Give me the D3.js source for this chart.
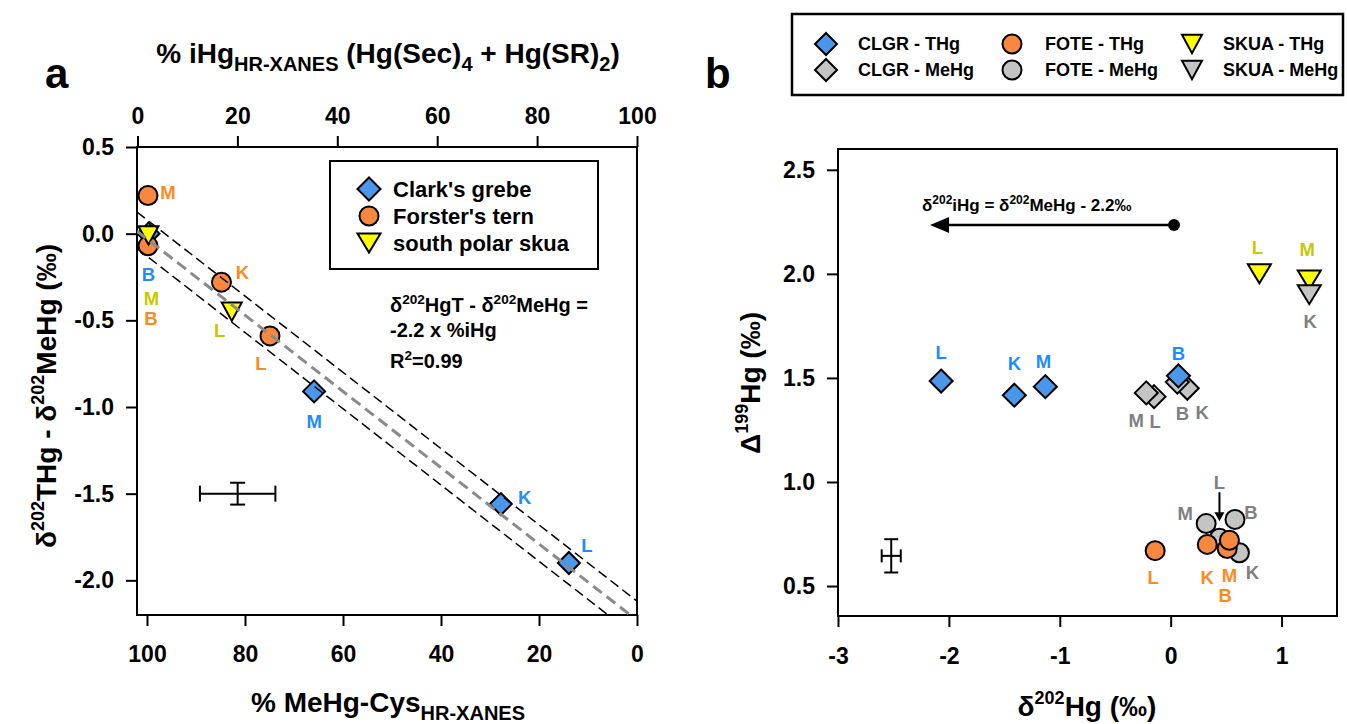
<!DOCTYPE html>
<html>
<head>
<meta charset="utf-8">
<script src="https://cdn.jsdelivr.net/npm/d3@7/dist/d3.min.js"></script>
<style>
html,body{margin:0;padding:0;background:#fff;}
svg text{font-family:"Liberation Sans",Arial,Helvetica,sans-serif;font-weight:bold;white-space:pre;}
</style>
</head>
<body>
<svg id="chart" width="1347" height="724"></svg>
<script>
// ================= Panel a data =================
const aSpecies = ['CLGR','CLGR','CLGR','CLGR','FOTE','FOTE','FOTE','FOTE','SKUA','SKUA'];
const aSite    = ['B','M','K','L','M','B','K','L','M','L'];
const aMeHgCys = [99.7, 65.9, 27.8, 13.9, 99.8, 99.8, 84.8, 74.9, 99.7, 82.7];
const aDelta   = [0.00, -0.91, -1.56, -1.90, 0.22, -0.07, -0.28, -0.59, -0.01, -0.45];
const aYTicks      = [0.5, 0.0, -0.5, -1.0, -1.5, -2.0];
const aTopTicks    = [0, 20, 40, 60, 80, 100];
const aBottomTicks = [100, 80, 60, 40, 20, 0];
const aLegendKeys   = ['CLGR','FOTE','SKUA'];
const aLegendLabels = ["Clark's grebe", "Forster's tern", "south polar skua"];
const fitNames      = ['upper','fit','lower'];
const fitIntercept  = [-2.12, -2.23, -2.33];
const fitSlope      = [0.022, 0.022, 0.022];
const aErrX = [81.5], aErrY = [-1.5], aErrDx = [7.7], aErrDy = [0.063];

// ================= Panel b data =================
const bSpecies = ['CLGR','CLGR','CLGR','CLGR', 'CLGR','CLGR','CLGR','CLGR',
                  'FOTE','FOTE','FOTE','FOTE', 'FOTE','FOTE','FOTE','FOTE',
                  'SKUA','SKUA','SKUA'];
const bForm    = ['MeHg','MeHg','MeHg','MeHg', 'THg','THg','THg','THg',
                  'MeHg','MeHg','MeHg','MeHg', 'THg','THg','THg','THg',
                  'THg','THg','MeHg'];
const bSite    = ['L','M','K','B', 'L','K','M','B',
                  'L','K','M','B', 'L','K','B','M',
                  'L','M','K'];
const bD202    = [-0.15,-0.22, 0.15, 0.06, -2.07,-1.41,-1.13, 0.07,
                   0.44, 0.62, 0.32, 0.58, -0.14, 0.33, 0.51, 0.53,
                   0.80, 1.25, 1.25];
const bD199    = [1.41, 1.428, 1.45, 1.48, 1.485, 1.417, 1.458, 1.51,
                  0.73, 0.66, 0.80, 0.82, 0.67, 0.70, 0.68, 0.72,
                  2.00, 1.97, 1.90];
const bYTicks = [0.5, 1.0, 1.5, 2.0, 2.5];
const bXTicks = [-3, -2, -1, 0, 1];
const bLegendSpecies = ['CLGR','FOTE','SKUA'];
const bLegendForms   = ['THg','MeHg'];
const bArrowFrom = [0.03, 2.235], bArrowTo = [-2.17, 2.235];
const bErrX = [-2.52], bErrY = [0.645], bErrDx = [0.086], bErrDy = [0.08];

// ================= Layout / style (not data) =================
const aLabelOffsets = [[0,41],[0,30],[24,-7],[18,-18],[20,-3],[3,73],[21,-10],[-9,27],[3,63],[-12,19]];
const bLabelOffsets = [[1,25],[-10,27],[15,24],[5,31], [0,-29],[0,-32],[-2,-25],[0,-23],
                       [0,-56],[13,20],[-21,-10],[16,-7], [-2,27],[0,33],[-2,47],[0,35],
                       [-2,-27],[-2,-31],[1,27]];
const fillColor = {CLGR:'#4a96e8', FOTE:'#f7883e', SKUA:'#ffff00', MeHg:'#c4c4c4'};
const textColor = {CLGR:'#1e8cff', FOTE:'#ff8a1e', SKUA:'#c8c800', MeHg:'#808080'};
const shapeOf   = {CLGR:'diamond', FOTE:'circle', SKUA:'triangle'};

function symPath(shape, big){
  if(shape==='diamond'){ const s = big?11.5:11; return `M0,${-s}L${s},0L0,${s}L${-s},0Z`; }
  if(shape==='triangle'){ const w = big?11.5:10, h = big?9.5:9.2; return `M${-w},${-h}L${w},${-h}L0,${h}Z`; }
  const r = 9.5;
  return `M${r},0A${r},${r} 0 1,1 ${-r},0A${r},${r} 0 1,1 ${r},0Z`;
}
function rich(sel, parts, size){
  let cur = 0;
  parts.forEach(p=>{
    let off = 0, fs = size;
    if(p.sub){ off = size*0.28; fs = p.fs || size*0.72; }
    if(p.sup){ off = -size*0.42; fs = p.fs || size*0.68; }
    sel.append('tspan').attr('font-size', fs).attr('dy', off-cur).text(p.t);
    cur = off;
  });
  return sel;
}
function styleAxis(g){
  g.select('.domain').remove();
  g.attr('font-family', null).attr('font-size', null);
  g.selectAll('.tick line').attr('stroke','#000').attr('stroke-width',2);
  g.selectAll('.tick text').attr('fill','#000').style('font-size','23px');
}
function drawErr(g, cx, cy, x0, x1, y0, y1, capH, capW){
  const e = g.append('g').attr('stroke','#000').attr('stroke-width',2).attr('fill','none');
  e.append('line').attr('x1',x0).attr('x2',x1).attr('y1',cy).attr('y2',cy);
  e.append('line').attr('x1',x0).attr('x2',x0).attr('y1',cy-capH/2).attr('y2',cy+capH/2);
  e.append('line').attr('x1',x1).attr('x2',x1).attr('y1',cy-capH/2).attr('y2',cy+capH/2);
  e.append('line').attr('x1',cx).attr('x2',cx).attr('y1',y0).attr('y2',y1);
  e.append('line').attr('x1',cx-capW/2).attr('x2',cx+capW/2).attr('y1',y0).attr('y2',y0);
  e.append('line').attr('x1',cx-capW/2).attr('x2',cx+capW/2).attr('y1',y1).attr('y2',y1);
}

const svg = d3.select('#chart');

// ================= Panel a =================
const xa    = d3.scaleLinear().domain([102.04, 0]).range([137, 637]);
const xaTop = d3.scaleLinear().domain([0, 100]).range([137.5, 637]);
const ya    = d3.scaleLinear().domain([-2.2, 0.5]).range([615, 147]);
const ga = svg.append('g');

ga.append('defs').append('clipPath').attr('id','clipA').append('rect')
  .attr('x',137).attr('y',147).attr('width',500).attr('height',468);

styleAxis(ga.append('g').attr('transform','translate(137,0)')
  .call(d3.axisLeft(ya).tickValues(aYTicks).tickFormat(d=>d.toFixed(1)).tickSize(11).tickPadding(12)));
styleAxis(ga.append('g').attr('transform','translate(0,615)')
  .call(d3.axisBottom(xa).tickValues(aBottomTicks).tickFormat(d=>String(d)).tickSize(11).tickPadding(20)));
styleAxis(ga.append('g').attr('transform','translate(0,147)')
  .call(d3.axisTop(xaTop).tickValues(aTopTicks).tickFormat(d=>String(d)).tickSize(11).tickPadding(12)));
ga.append('rect').attr('x',137).attr('y',147).attr('width',500).attr('height',468)
  .attr('fill','none').attr('stroke','#000').attr('stroke-width',2);

const aIdx = d3.range(aSpecies.length);
ga.append('g').selectAll('path').data(aIdx).join('path')
  .attr('d', i=>symPath(shapeOf[aSpecies[i]], false))
  .attr('transform', i=>`translate(${xa(aMeHgCys[i])},${ya(aDelta[i])})`)
  .attr('fill', i=>fillColor[aSpecies[i]]).attr('stroke','#000').attr('stroke-width',2);

const lineGen = d3.line().x(d=>xa(d[0])).y(d=>ya(d[1]));
const fitG = ga.append('g').attr('clip-path','url(#clipA)');
fitNames.forEach((n,k)=>{
  const pts = [[102.04, fitIntercept[k]+fitSlope[k]*102.04],[0, fitIntercept[k]]];
  fitG.append('path').attr('d', lineGen(pts)).attr('fill','none')
    .attr('stroke', n==='fit' ? '#8a8a8a' : '#000')
    .attr('stroke-width', n==='fit' ? 3 : 1.5)
    .attr('stroke-dasharray', n==='fit' ? '11,6' : '10,5');
});

ga.append('g').selectAll('text').data(aIdx).join('text')
  .attr('x', i=>xa(aMeHgCys[i])+aLabelOffsets[i][0])
  .attr('y', i=>ya(aDelta[i])+aLabelOffsets[i][1])
  .attr('dy','0.36em').attr('text-anchor','middle').attr('font-size',18.5)
  .attr('fill', i=>textColor[aSpecies[i]]).text(i=>aSite[i]);

drawErr(ga, xa(aErrX[0]), ya(aErrY[0]), xa(aErrX[0]+aErrDx[0]), xa(aErrX[0]-aErrDx[0]),
        ya(aErrY[0]+aErrDy[0]), ya(aErrY[0]-aErrDy[0]), 16, 15);

ga.append('rect').attr('x',330).attr('y',161).attr('width',268).attr('height',108)
  .attr('fill','#fff').attr('stroke','#000').attr('stroke-width',2);
aLegendKeys.forEach((k,j)=>{
  const y = 189 + j*27;
  ga.append('path').attr('d', symPath(shapeOf[k], true)).attr('transform',`translate(369,${y})`)
    .attr('fill', fillColor[k]).attr('stroke','#000').attr('stroke-width',2);
  ga.append('text').attr('x',393).attr('y',y).attr('dy','0.36em').attr('font-size',22)
    .attr('fill','#000').text(aLegendLabels[j]);
});

rich(ga.append('text').attr('x',390).attr('y',312).attr('font-size',20),
  [{t:'δ'},{t:'202',sup:true},{t:'HgT - δ'},{t:'202',sup:true},{t:'MeHg ='}], 20);
ga.append('text').attr('x',390).attr('y',337).attr('font-size',20).text('-2.2 x %iHg');
rich(ga.append('text').attr('x',390).attr('y',368).attr('font-size',20),
  [{t:'R'},{t:'2',sup:true},{t:'=0.99'}], 20);

svg.append('text').attr('x',45).attr('y',88).attr('font-size',42).text('a');
rich(svg.append('text').attr('x',388).attr('y',63).attr('text-anchor','middle').attr('font-size',28),
  [{t:'% iHg'},{t:'HR-XANES',sub:true,fs:20},{t:' (Hg(Sec)'},{t:'4',sub:true,fs:20},{t:' + Hg(SR)'},{t:'2',sub:true,fs:20},{t:')'}], 28);
rich(svg.append('text').attr('x',388).attr('y',712).attr('text-anchor','middle').attr('font-size',28),
  [{t:'% MeHg-Cys'},{t:'HR-XANES',sub:true,fs:20}], 28);
rich(svg.append('text').attr('transform','translate(56,396) rotate(-90)').attr('text-anchor','middle').attr('font-size',28),
  [{t:'δ'},{t:'202',sup:true,fs:18},{t:'THg - δ'},{t:'202',sup:true,fs:18},{t:'MeHg (‰)'}], 28);

// ================= Panel b =================
const xb = d3.scaleLinear().domain([-3, 1.5]).range([838, 1337]);
const yb = d3.scaleLinear().domain([0.356, 2.6]).range([616, 149]);
const gb = svg.append('g');

styleAxis(gb.append('g').attr('transform','translate(838,0)')
  .call(d3.axisLeft(yb).tickValues(bYTicks).tickFormat(d=>d.toFixed(1)).tickSize(11).tickPadding(12)));
styleAxis(gb.append('g').attr('transform','translate(0,616)')
  .call(d3.axisBottom(xb).tickValues(bXTicks).tickFormat(d=>String(d)).tickSize(11).tickPadding(21)));
gb.append('rect').attr('x',838).attr('y',149).attr('width',499).attr('height',467)
  .attr('fill','none').attr('stroke','#000').attr('stroke-width',2);

const bIdx = d3.range(bSpecies.length);
gb.append('g').selectAll('path').data(bIdx).join('path')
  .attr('d', i=>symPath(shapeOf[bSpecies[i]], true))
  .attr('transform', i=>`translate(${xb(bD202[i])},${yb(bD199[i])})`)
  .attr('fill', i=> bForm[i]==='MeHg' ? fillColor.MeHg : fillColor[bSpecies[i]])
  .attr('stroke','#000').attr('stroke-width',2);

gb.append('g').selectAll('text').data(bIdx).join('text')
  .attr('x', i=>xb(bD202[i])+bLabelOffsets[i][0])
  .attr('y', i=>yb(bD199[i])+bLabelOffsets[i][1])
  .attr('dy','0.36em').attr('text-anchor','middle').attr('font-size',18.5)
  .attr('fill', i=> bForm[i]==='MeHg' ? textColor.MeHg : textColor[bSpecies[i]])
  .text(i=>bSite[i]);

bIdx.filter(i=>bSpecies[i]==='FOTE' && bForm[i]==='MeHg' && bSite[i]==='L').forEach(i=>{
  const cx = xb(bD202[i]), cy = yb(bD199[i]);
  gb.append('line').attr('x1',cx).attr('x2',cx).attr('y1',cy-46).attr('y2',cy-24)
    .attr('stroke','#000').attr('stroke-width',2);
  gb.append('path').attr('d',`M${cx-5},${cy-26}L${cx+5},${cy-26}L${cx},${cy-17}Z`).attr('fill','#000');
});

{
  const x0 = xb(bArrowFrom[0]), y0 = yb(bArrowFrom[1]), x1 = xb(bArrowTo[0]);
  gb.append('line').attr('x1',x0).attr('x2',x1+17).attr('y1',y0).attr('y2',y0)
    .attr('stroke','#000').attr('stroke-width',2.5);
  gb.append('path').attr('d',`M${x1},${y0}L${x1+19},${y0-8}L${x1+19},${y0+8}Z`).attr('fill','#000');
  gb.append('circle').attr('cx',x0).attr('cy',y0).attr('r',6).attr('fill','#000');
  rich(gb.append('text').attr('x',922).attr('y',211).attr('font-size',17),
    [{t:'δ'},{t:'202',sup:true,fs:12},{t:'iHg = δ'},{t:'202',sup:true,fs:12},{t:'MeHg - 2.2‰'}], 17);
}

drawErr(gb, xb(bErrX[0]), yb(bErrY[0]), xb(bErrX[0]-bErrDx[0]), xb(bErrX[0]+bErrDx[0]),
        yb(bErrY[0]+bErrDy[0]), yb(bErrY[0]-bErrDy[0]), 13, 14);

gb.append('rect').attr('x',792).attr('y',14).attr('width',551).attr('height',81)
  .attr('fill','#fff').attr('stroke','#000').attr('stroke-width',2.5);
const legSymX = [826, 1012, 1192], legTxtX = [858, 1045, 1223], legRowY = [44, 70];
bLegendSpecies.forEach((s,j)=>{
  bLegendForms.forEach((f,r)=>{
    gb.append('path').attr('d', symPath(shapeOf[s], false))
      .attr('transform',`translate(${legSymX[j]},${legRowY[r]})`)
      .attr('fill', f==='MeHg' ? fillColor.MeHg : fillColor[s]).attr('stroke','#000').attr('stroke-width',2);
    gb.append('text').attr('x',legTxtX[j]).attr('y',legRowY[r]).attr('dy','0.36em')
      .attr('font-size',18).attr('fill','#000').text(`${s} - ${f}`);
  });
});

svg.append('text').attr('x',705).attr('y',88).attr('font-size',42).text('b');
rich(svg.append('text').attr('transform','translate(760,383) rotate(-90)').attr('text-anchor','middle').attr('font-size',28),
  [{t:'Δ'},{t:'199',sup:true,fs:18},{t:'Hg (‰)'}], 28);
rich(svg.append('text').attr('x',1087).attr('y',716).attr('text-anchor','middle').attr('font-size',28),
  [{t:'δ'},{t:'202',sup:true,fs:18},{t:'Hg (‰)'}], 28);
</script>
</body>
</html>
